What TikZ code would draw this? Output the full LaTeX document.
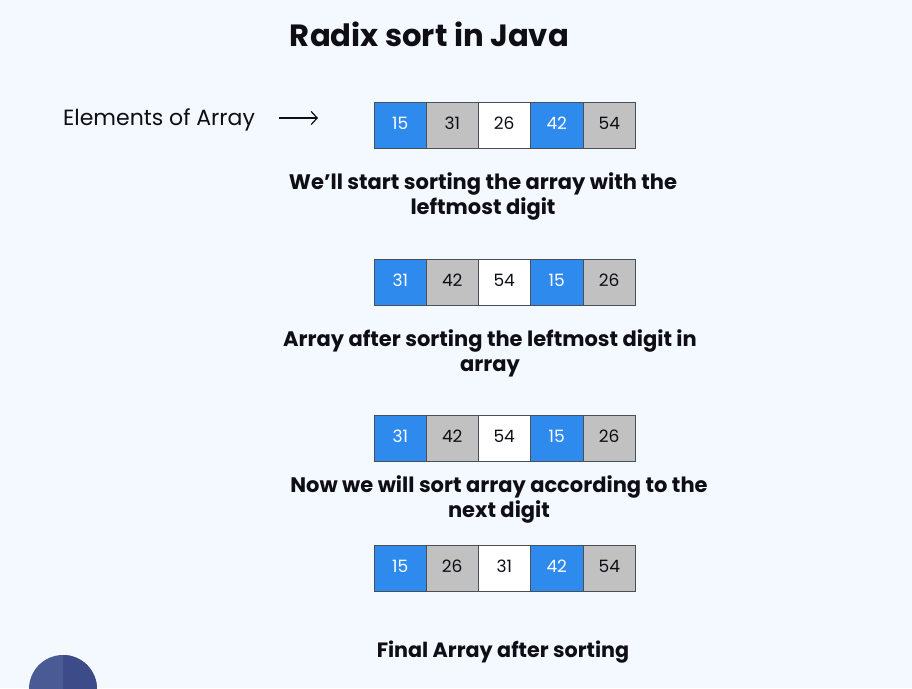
\documentclass[tikz,border=0pt]{standalone}
\usepackage{fontspec}
\usetikzlibrary{arrows.meta}
\setmainfont{Poppins}
\definecolor{pagebg}{HTML}{F4F8FF}
\definecolor{cellblue}{HTML}{2F8AEE}
\definecolor{cellgray}{HTML}{C1C1C1}
\definecolor{cellline}{HTML}{4A4F55}
\definecolor{textink}{HTML}{0E0E14}
\definecolor{discleft}{HTML}{4A5A94}
\definecolor{discright}{HTML}{3D4C88}
\tikzset{
    cell/.style = {draw=cellline, line width=.9pt, minimum height=46pt, inner sep=0pt, text depth=4pt, anchor=north west, font=\fontsize{17}{17}\selectfont, text=textink},
    bluecell/.style = {cell, fill=cellblue, text=white},
    graycell/.style = {cell, fill=cellgray},
    whitecell/.style = {cell, fill=white},
    caption/.style = {font=\fontsize{21}{25}\selectfont\bfseries, text=textink, align=center}
}
\begin{document}
\begin{tikzpicture}[x=1pt,y=-1pt]
    \useasboundingbox (0,0) rectangle (912,688);
    \fill[pagebg] (0,0) rectangle (912,688);
    \begin{scope}
        \clip (0,0) rectangle (912,688);
        \fill[discleft] (63,689) circle (34);
        \fill[discright] (63,655) arc (-90:90:34) -- cycle;
    \end{scope}
    \node[font=\fontsize{30.7}{31}\selectfont\bfseries, text=textink] (title) at (429.5,34.5) {Radix sort in Java};
    \node[font=\fontsize{22}{22}\selectfont, text=textink] (elements) at (159,120) {Elements of Array};
    \coordinate (arrowstart) at (279,118);
    \coordinate (arrowend) at (318,118);
    \draw[-{Straight Barb[length=6pt,width=13pt]}, line width=1.2pt, textink] (arrowstart) -- (arrowend);
    % the four arrays
    \foreach \row/\ypos/\a/\b/\c/\d/\e in {one/101.6/15/31/26/42/54, two/258.6/31/42/54/15/26, three/414.6/31/42/54/15/26, four/544.6/15/26/31/42/54}{
        \node[bluecell, minimum width=52pt] (\row a) at (373.8,\ypos) {\a};
        \node[graycell, minimum width=52pt] (\row b) at (425.8,\ypos) {\b};
        \node[whitecell, minimum width=52pt] (\row c) at (477.8,\ypos) {\c};
        \node[bluecell, minimum width=53pt] (\row d) at (529.8,\ypos) {\d};
        \node[graycell, minimum width=52pt] (\row e) at (582.8,\ypos) {\e};
    }
    \node[caption] (start) at (483,196) {We’ll start sorting the array with the\\leftmost digit};
    \node[caption] (after) at (490,353) {Array after sorting the leftmost digit in\\array};
    \node[caption] (next) at (499,499) {Now we will sort array according to the\\next digit};
    \node[caption, font=\fontsize{20.7}{25}\selectfont\bfseries] (final) at (503,652) {Final Array after sorting};
\end{tikzpicture}
\end{document}
